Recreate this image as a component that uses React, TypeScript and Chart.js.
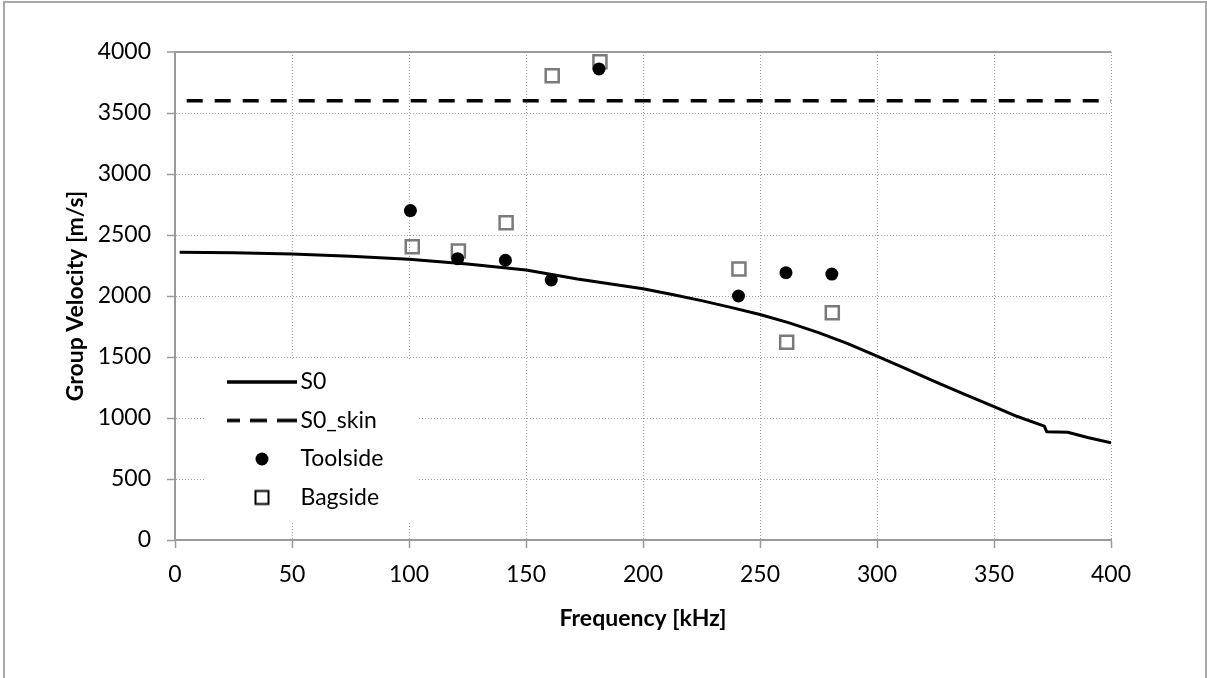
import React, { useEffect, useRef } from "react";
import { Chart, registerables } from "chart.js";

Chart.register(...registerables);

// ---- data ----
const s0Freq = [2, 25, 50, 75, 100, 125, 150, 172, 200, 212.5, 225, 237.5, 250, 262.5, 275, 287.5, 300, 312.5, 325, 337.5, 350, 360, 371.5, 372.5, 381.5, 390, 400];
const s0Vel = [2358, 2354, 2344, 2326, 2301, 2262, 2213, 2140, 2060, 2012, 1962, 1907, 1848, 1780, 1700, 1610, 1508, 1402, 1297, 1194, 1093, 1012, 934, 888, 883, 840, 797];

const skinFreq = [5, 400];
const skinVel = [3600, 3600];

const toolFreq = [100.6, 120.8, 141.2, 160.8, 181.2, 240.8, 261.1, 280.7];
const toolVel = [2700, 2306, 2293, 2131, 3861, 2000, 2191, 2180];

const bagFreq = [101.4, 121.1, 141.5, 161.2, 181.6, 241.0, 261.4, 280.9];
const bagVel = [2404, 2369, 2601, 3806, 3920, 2221, 1620, 1863];

const seriesLabels = ["S0", "S0_skin", "Toolside", "Bagside"];

const xTickValues = [0, 50, 100, 150, 200, 250, 300, 350, 400];
const yTickValues = [0, 500, 1000, 1500, 2000, 2500, 3000, 3500, 4000];

const xTitle = "Frequency [kHz]";
const yTitle = "Group Velocity [m/s]";

const FONT = "Lato";
const GRID = "#a0a0a0";
const AXIS = "#9a9a9a";
const BAG_COLOR = "#7a7a7a";

function pts(xs: number[], ys: number[]) {
  return xs.map((x, i) => ({ x, y: ys[i] }));
}

function makeIcon(kind: string): HTMLCanvasElement {
  const c = document.createElement("canvas");
  const ctx = c.getContext("2d")!;
  if (kind === "solid" || kind === "dash") {
    c.width = 70;
    c.height = 6;
    ctx.strokeStyle = "#000";
    ctx.lineWidth = 3.5;
    if (kind === "dash") ctx.setLineDash([13, 10, 17, 10, 20, 0]);
    ctx.beginPath();
    ctx.moveTo(0, 3);
    ctx.lineTo(70, 3);
    ctx.stroke();
  } else if (kind === "circle") {
    c.width = 16;
    c.height = 16;
    ctx.fillStyle = "#000";
    ctx.beginPath();
    ctx.arc(8, 8, 6.5, 0, Math.PI * 2);
    ctx.fill();
  } else {
    c.width = 18;
    c.height = 18;
    ctx.strokeStyle = "#000";
    ctx.lineWidth = 2;
    ctx.strokeRect(2.5, 2.5, 13, 13);
  }
  return c;
}

export default function App() {
  const ref = useRef<HTMLCanvasElement | null>(null);

  useEffect(() => {
    if (!ref.current) return;
    const icons = [makeIcon("solid"), makeIcon("dash"), makeIcon("circle"), makeIcon("square")];

    const legendPlacer = {
      id: "legendPlacer",
      beforeDraw(chart: any) {
        const lg = chart.legend;
        if (!lg) return;
        lg.left = 219.5;
        lg.top = 355;
        lg.right = 430;
        lg.bottom = 540;
      },
      beforeDatasetsDraw(chart: any) {
        const ctx = chart.ctx;
        ctx.save();
        ctx.fillStyle = "#ffffff";
        ctx.fillRect(206, 360, 211, 161);
        ctx.restore();
        if (chart.legend) chart.legend.draw();
      },
    };

    const chart = new Chart(ref.current, {
      type: "scatter",
      data: {
        datasets: [
          {
            label: seriesLabels[0],
            data: pts(s0Freq, s0Vel),
            showLine: true,
            borderColor: "#000",
            borderWidth: 3,
            pointRadius: 0,
            tension: 0,
            borderJoinStyle: "round",
          } as any,
          {
            label: seriesLabels[1],
            data: pts(skinFreq, skinVel),
            showLine: true,
            borderColor: "#000",
            borderWidth: 3.5,
            borderDash: [16, 12],
            pointRadius: 0,
          },
          {
            label: seriesLabels[2],
            data: pts(toolFreq, toolVel),
            pointStyle: "circle",
            pointRadius: 6.5,
            backgroundColor: "#000",
            borderColor: "#000",
            borderWidth: 0,
          },
          {
            label: seriesLabels[3],
            data: pts(bagFreq, bagVel),
            pointStyle: "rect",
            pointRadius: 9.2,
            backgroundColor: "rgba(0,0,0,0)",
            borderColor: BAG_COLOR,
            borderWidth: 2.5,
          },
        ],
      },
      options: {
        animation: false,
        responsive: false,
        maintainAspectRatio: false,
        events: [],
        layout: { padding: { left: 0, top: 52, right: 96, bottom: 0 } },
        plugins: {
          tooltip: { enabled: false },
          legend: {
            position: "chartArea" as any,
            align: "start",
            labels: {
              usePointStyle: true,
              pointStyleWidth: 54,
              padding: 15.5,
              color: "#000",
              font: { family: FONT, size: 23 },
              generateLabels: (ch: any) =>
                ch.data.datasets.map((ds: any, i: number) => ({
                  text: ds.label,
                  pointStyle: icons[i],
                  fillStyle: "rgba(0,0,0,0)",
                  strokeStyle: "rgba(0,0,0,0)",
                  lineWidth: 0,
                  hidden: false,
                  datasetIndex: i,
                  fontColor: "#000",
                })),
            },
          },
        },
        scales: {
          x: {
            type: "linear",
            min: 0,
            max: 400,
            afterBuildTicks: (s: any) => {
              s.ticks = xTickValues.map((v) => ({ value: v }));
            },
            afterFit: (s: any) => {
              s.height = 138;
            },
            ticks: {
              callback: (v: any) => String(v),
              font: { family: FONT, size: 23 },
              color: "#000",
              padding: 13,
              maxRotation: 0,
              autoSkip: false,
            },
            grid: {
              color: GRID,
              lineWidth: 1,
              tickLength: 8,
              tickColor: AXIS,
              tickWidth: 1.5,
            },
            border: { display: true, color: AXIS, width: 2, dash: [1, 2] },
            title: {
              display: true,
              text: xTitle,
              color: "#000",
              font: { family: FONT, size: 23, weight: "bold" },
              padding: { top: 0, bottom: 46 },
            },
          },
          y: {
            type: "linear",
            min: 0,
            max: 4000,
            afterBuildTicks: (s: any) => {
              s.ticks = yTickValues.map((v) => ({ value: v }));
            },
            afterFit: (s: any) => {
              s.width = 175;
            },
            ticks: {
              callback: (v: any) => String(v),
              font: { family: FONT, size: 23 },
              color: "#000",
              padding: 16,
              autoSkip: false,
            },
            grid: {
              color: (c: any) => (c.tick && c.tick.value === 4000 ? AXIS : GRID),
              lineWidth: (c: any) => (c.tick && c.tick.value === 4000 ? 2 : 1),
              tickLength: 8,
              tickColor: AXIS,
              tickWidth: 1.5,
            },
            border: {
              display: true,
              color: AXIS,
              width: 2,
              dash: (c: any) => (c.tick && c.tick.value === 4000 ? [] : [1, 2]),
            } as any,
            title: {
              display: true,
              text: yTitle,
              color: "#000",
              font: { family: FONT, size: 23, weight: "bold" },
              padding: { top: 62, bottom: 0 },
            },
          },
        },
      },
      plugins: [legendPlacer],
    });

    return () => chart.destroy();
  }, []);

  return (
    <div style={{ position: "fixed", left: 0, top: 0, width: 1207, height: 678, background: "#fff", overflow: "hidden" }}>
      <div
        style={{
          position: "absolute",
          left: 3,
          top: 1,
          width: 1204,
          height: 720,
          boxSizing: "border-box",
          border: "2px solid #a8a8a8",
        }}
      />
      <canvas ref={ref} width={1207} height={678} style={{ position: "absolute", left: 0, top: 0, width: 1207, height: 678 }} />
    </div>
  );
}
